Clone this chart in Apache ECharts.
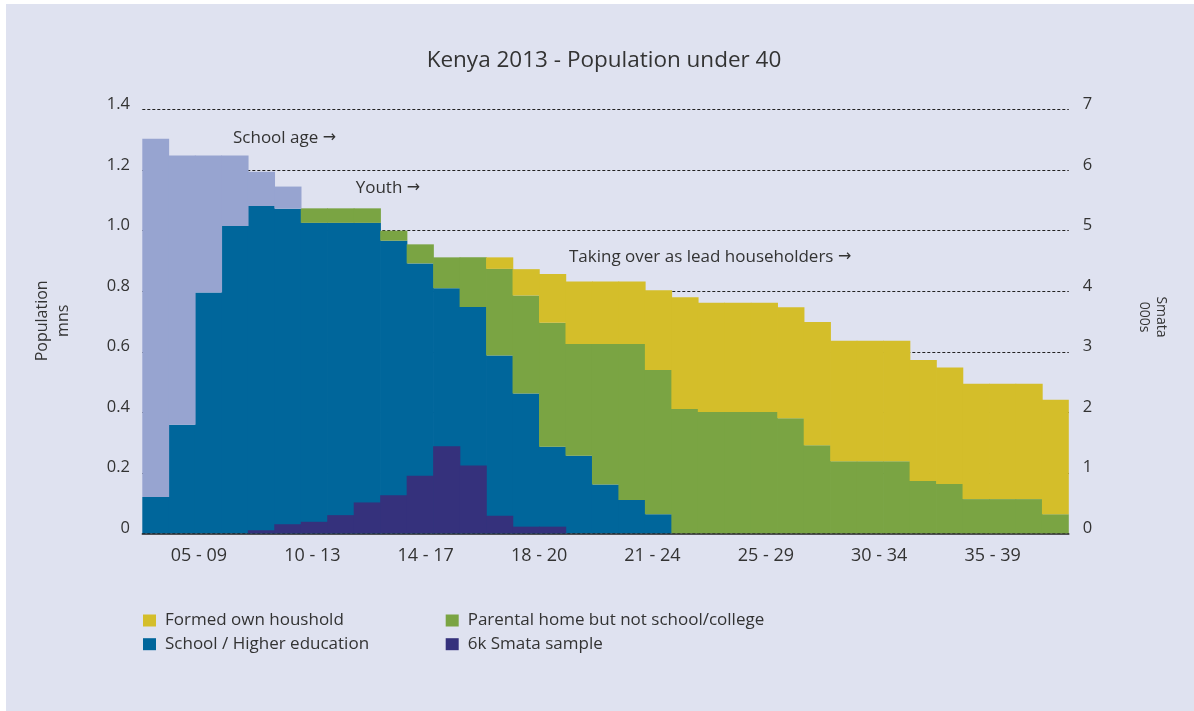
<!DOCTYPE html>
<html>
<head>
<meta charset="utf-8">
<title>Kenya 2013 - Population under 40</title>
<script src="https://cdn.jsdelivr.net/npm/echarts@6/dist/echarts.min.js"></script>
<style>
  html, body { margin: 0; padding: 0; background: #fff; }
  #main { position: absolute; left: 6px; top: 4px; width: 1188px; height: 707px; }
</style>
</head>
<body>
<div id="main"></div>
<script>
// single years of age, 5 to 39
const ages = ['5', '6', '7', '8', '9', '10', '11', '12', '13', '14', '15', '16',
  '17', '18', '19', '20', '21', '22', '23', '24', '25', '26', '27', '28', '29',
  '30', '31', '32', '33', '34', '35', '36', '37', '38', '39'];
const ageGroups = ['05 - 09', '10 - 13', '14 - 17', '18 - 20', '21 - 24', '25 - 29', '30 - 34', '35 - 39'];

// population, millions (stacked)
const school = [0.120, 0.359, 0.796, 1.016, 1.082, 1.073, 1.026, 1.026, 1.026, 0.967,
  0.892, 0.810, 0.748, 0.588, 0.462, 0.286, 0.256, 0.161, 0.110, 0.063,
  0, 0, 0, 0, 0, 0, 0, 0, 0, 0, 0, 0, 0, 0, 0];
const parental = [0, 0, 0, 0, 0, 0, 0.048, 0.048, 0.048, 0.033,
  0.063, 0.102, 0.164, 0.286, 0.324, 0.410, 0.370, 0.465, 0.516, 0.477,
  0.411, 0.401, 0.401, 0.401, 0.380, 0.291, 0.238, 0.238, 0.238, 0.173,
  0.163, 0.113, 0.113, 0.113, 0.063];
const ownHousehold = [0, 0, 0, 0, 0, 0, 0, 0, 0, 0, 0, 0, 0, 0.038, 0.087,
  0.161, 0.206, 0.206, 0.206, 0.263, 0.369, 0.361, 0.361, 0.361, 0.367,
  0.407, 0.398, 0.398, 0.398, 0.400, 0.385, 0.381, 0.381, 0.381, 0.378];
const notInSchool = [1.184, 0.890, 0.453, 0.233, 0.113, 0.073,
  0, 0, 0, 0, 0, 0, 0, 0, 0, 0, 0, 0, 0, 0, 0, 0, 0, 0, 0, 0, 0, 0, 0, 0, 0, 0, 0, 0, 0];

// Smata sample, thousands (right axis)
const smata = [0, 0, 0, 0, 0.05, 0.15, 0.19, 0.30, 0.51, 0.63, 0.95, 1.44, 1.12, 0.29,
  0.11, 0.11, 0, 0, 0, 0, 0, 0, 0, 0, 0, 0, 0, 0, 0, 0, 0, 0, 0, 0, 0];

const textColor = '#333';
const font = 'Open Sans';

let chart = echarts.init(document.getElementById('main'));

function legendItem(name, left, top) {
  return {
    data: [name],
    left: left,
    top: top,
    padding: 0,
    icon: 'rect',
    itemWidth: 13,
    itemHeight: 12,
    selectedMode: false,
    textStyle: { fontSize: 17, color: textColor, fontFamily: font, padding: [0, 0, 0, 4] }
  };
}

function note(text, x, y) {
  return {
    type: 'text',
    x: x,
    y: y,
    style: {
      text: text + ' {a|\u2192}',
      fontSize: 17,
      fontFamily: font,
      fill: textColor,
      align: 'left',
      verticalAlign: 'middle',
      rich: { a: { fontFamily: 'DejaVu Sans', fontSize: 16, fill: textColor } }
    }
  };
}

// bars a little wider than the band so neighbours touch without seams
function bar(name, values, color, extra) {
  return Object.assign({
    name: name,
    type: 'bar',
    data: values.map((v) => (v === 0 ? null : v)),
    itemStyle: { color: color },
    barWidth: 27.2,
    barGap: '-100%'
  }, extra);
}

chart.setOption({
  animation: false,
  backgroundColor: '#dfe2f0',
  textStyle: { fontFamily: font },
  title: {
    text: 'Kenya 2013 - Population under 40',
    left: 598,
    top: 45,
    padding: 0,
    textAlign: 'center',
    textStyle: { fontSize: 22.5, fontWeight: 'normal', color: textColor, fontFamily: font }
  },
  legend: [
    legendItem('Formed own houshold', 137, 608),
    legendItem('Parental home but not school/college', 439.7, 608),
    legendItem('School / Higher education', 137, 631.7),
    legendItem('6k Smata sample', 439.7, 631.7)
  ],
  grid: [
    { left: 136.3, top: 105.7, width: 926.5, height: 423.6 },
    // band for the age group labels
    { left: 136.3, top: 105.7, width: 907, height: 423.6 }
  ],
  xAxis: [
    {
      type: 'category',
      data: ages,
      gridIndex: 0,
      axisLine: { lineStyle: { color: '#222', width: 1.5 } },
      axisTick: { show: false },
      axisLabel: { show: false }
    },
    {
      type: 'category',
      data: ageGroups,
      gridIndex: 1,
      axisLine: { show: false },
      axisTick: { show: false },
      axisLabel: { fontSize: 18, color: textColor, margin: 14 }
    }
  ],
  yAxis: [
    {
      type: 'value',
      gridIndex: 0,
      min: 0,
      max: 1.4,
      interval: 0.2,
      axisLine: { show: false },
      axisTick: { show: false },
      axisLabel: {
        fontSize: 16.5,
        color: textColor,
        margin: 12.3,
        verticalAlign: 'bottom',
        lineHeight: 10,
        formatter: (v) => (v === 0 ? '0' : v.toFixed(1))
      },
      splitLine: { lineStyle: { color: '#222', type: [3, 2], width: 1 } }
    },
    {
      type: 'value',
      gridIndex: 0,
      position: 'right',
      min: 0,
      max: 7,
      interval: 1,
      axisLine: { show: false },
      axisTick: { show: false },
      axisLabel: { fontSize: 16.5, color: textColor, margin: 14, verticalAlign: 'bottom', lineHeight: 10 },
      splitLine: { show: false }
    },
    { type: 'value', gridIndex: 1, show: false }
  ],
  series: [
    bar('School / Higher education', school, '#00669b', { stack: 'pop' }),
    bar('Parental home but not school/college', parental, '#7aa443', { stack: 'pop' }),
    bar('Formed own houshold', ownHousehold, '#d4be2a', { stack: 'pop' }),
    bar('Not in school', notInSchool, '#97a4d0', { stack: 'pop' }),
    bar('6k Smata sample', smata, '#35317c', { yAxisIndex: 1, z: 3 })
  ],
  graphic: [
    note('School age', 227, 133.7),
    note('Youth', 349.7, 183.7),
    note('Taking over as lead householders', 563, 252.7),
    {
      type: 'text',
      x: 47.4,
      y: 316.8,
      rotation: Math.PI / 2,
      style: { text: 'Population\nmns', fontSize: 16, lineHeight: 21, fontFamily: font, fill: textColor, align: 'center', verticalAlign: 'middle' }
    },
    {
      type: 'text',
      x: 1146,
      y: 313,
      rotation: -Math.PI / 2,
      style: { text: 'Smata\n000s', fontSize: 14, lineHeight: 17, fontFamily: font, fill: textColor, align: 'center', verticalAlign: 'middle' }
    }
  ]
});
</script>
</body>
</html>
